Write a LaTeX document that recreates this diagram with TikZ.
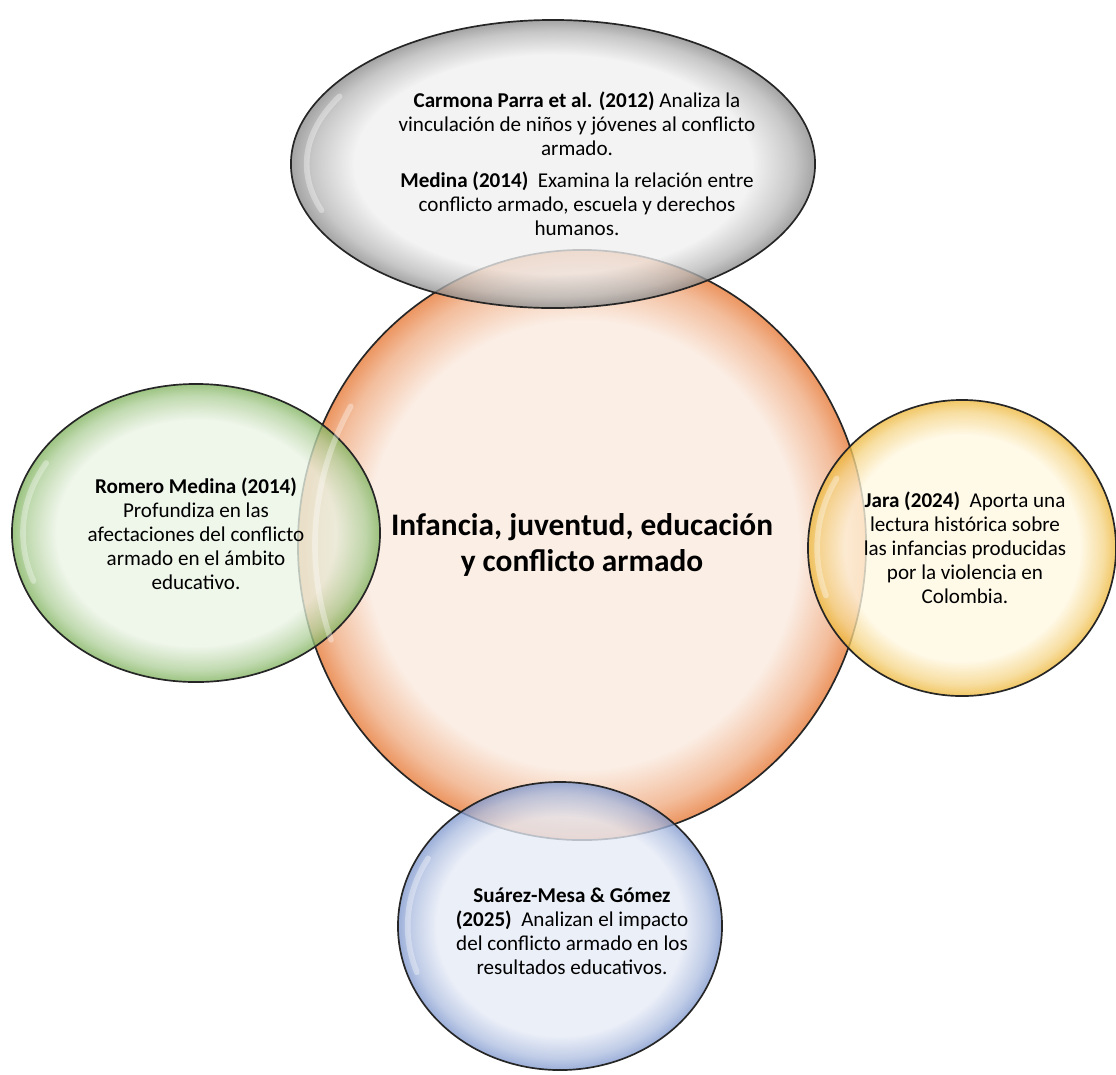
\documentclass[tikz,border=0pt]{standalone}
\usepackage{fontspec}
\setmainfont{Carlito}
\usetikzlibrary{shapes.geometric}

% colores de las burbujas
\definecolor{glassin}{HTML}{FFFFFF}
\definecolor{glassout}{HTML}{000000}
\pgfdeclareradialshading[glassin,glassout]{glass}{\pgfpoint{0bp}{0bp}}{%
  color(0bp)=(glassin); color(19bp)=(glassin); color(23bp)=(glassout!55!glassin);
  color(25bp)=(glassout); color(50bp)=(glassout)}

\definecolor{centroIn}{HTML}{FBEEE5}
\definecolor{centroOut}{HTML}{EC9560}
\definecolor{grisIn}{HTML}{EFEFEF}
\definecolor{grisOut}{HTML}{8A8A8A}
\definecolor{verdeIn}{HTML}{EAF3E4}
\definecolor{verdeOut}{HTML}{80B35E}
\definecolor{amarilloIn}{HTML}{FFF8E2}
\definecolor{amarilloOut}{HTML}{EDB73A}
\definecolor{azulIn}{HTML}{E6EBF6}
\definecolor{azulOut}{HTML}{7F98CE}

\tikzset{
  burbuja/.style n args={3}{ellipse, inner sep=0pt, draw=black!85, line width=1.2pt,
    /utils/exec={\colorlet{glassin}{#1}\colorlet{glassout}{#2}},
    shade, shading=glass, fill opacity=#3, draw opacity=1},
  brillo/.style={white, line width=4pt, opacity=0.35, line cap=round},
  txt/.style={align=center, font=\fontsize{15}{17}\selectfont, text=black},
  titulo/.style={align=center, font=\fontsize{22.3}{25.5}\selectfont\bfseries}
}

\begin{document}
\begin{tikzpicture}[x=0.025cm, y=-0.025cm]
    \useasboundingbox (0,0) rectangle (1116,1074);

    % Circulo central
    \node[burbuja={centroIn}{centroOut}{1}, minimum width=14.2cm, minimum height=14.75cm] (centro) at (582,545) {};

    % Burbujas de autores
    \node[burbuja={grisIn}{grisOut}{0.78}, minimum width=13.1cm, minimum height=7.2cm] (carmona) at (553,164) {};
    \node[burbuja={verdeIn}{verdeOut}{0.78}, minimum width=9.2cm, minimum height=7.45cm] (romero) at (196,533) {};
    \node[burbuja={amarilloIn}{amarilloOut}{0.78}, minimum width=7.7cm, minimum height=7.4cm] (jara) at (962,548) {};
    \node[burbuja={azulIn}{azulOut}{0.78}, minimum width=8.1cm, minimum height=7.2cm] (suarez) at (560,926) {};

    % Brillos
    \foreach \bur/\rx/\ry in {centro/7.1/7.375, carmona/6.55/3.6, romero/4.6/3.725, jara/3.85/3.7, suarez/4.05/3.6}
        \draw[brillo] ([shift={(150:{0.94*\rx*1cm} and {0.94*\ry*1cm})}]\bur.center)
            arc[start angle=150, end angle=200, x radius=0.94*\rx*1cm, y radius=0.94*\ry*1cm];

    % Textos
    \node[titulo] (tema) at (centro) {Infancia, juventud, educación\\y conflicto armado};
    \node[txt] (tcarmona) at (577,164) {\textbf{Carmona Parra et al. (2012)} Analiza la\\
        vinculación de niños y jóvenes al conflicto\\ armado.\\[6pt]
        \textbf{Medina (2014)}~ Examina la relación entre\\
        conflicto armado, escuela y derechos\\ humanos.};
    \node[txt] (tromero) at (196,534) {\textbf{Romero Medina (2014)}\\ Profundiza en las\\
        afectaciones del conflicto\\ armado en el ámbito\\ educativo.};
    \node[txt] (tjara) at (965,548) {\textbf{Jara (2024)}~ Aporta una\\ lectura histórica sobre\\
        las infancias producidas\\ por la violencia en\\ Colombia.};
    \node[txt] (tsuarez) at (572,931) {\textbf{Suárez-Mesa \& Gómez}\\
        \textbf{(2025)}~ Analizan el impacto\\ del conflicto armado en los\\ resultados educativos.};
\end{tikzpicture}
\end{document}
